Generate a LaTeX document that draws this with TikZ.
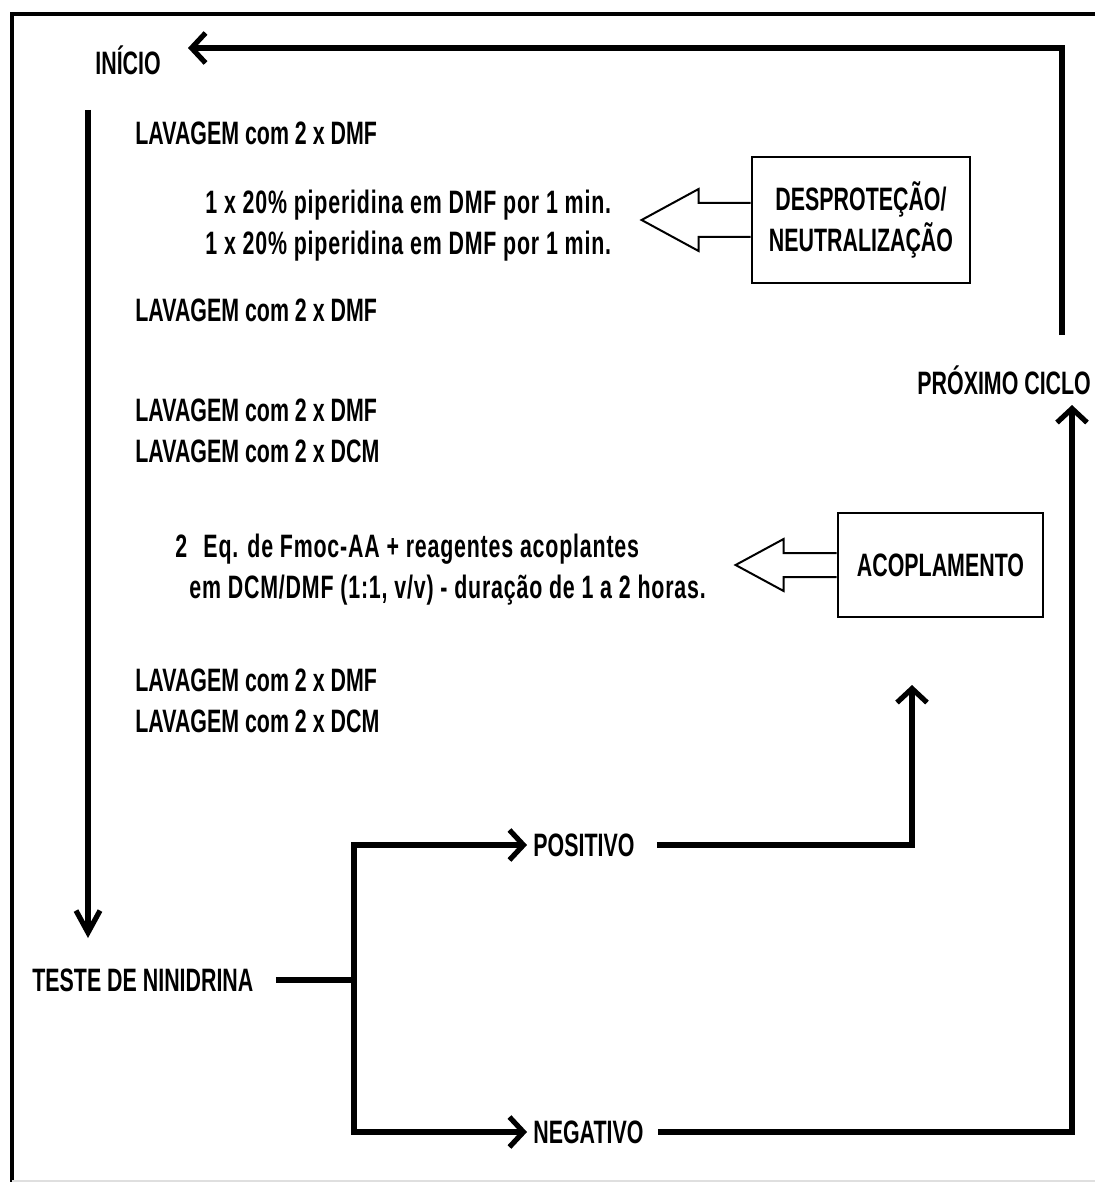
\documentclass[tikz,border=0pt]{standalone}
\usepackage{fontspec}
\setmainfont{Liberation Sans}[FakeStretch=0.66]
\usetikzlibrary{arrows.meta, calc}

\begin{document}
\begin{tikzpicture}[x=0.5pt, y=-0.5pt,
    font=\bfseries\fontsize{16.2}{20.5}\selectfont,
    txt/.style={anchor=west, align=left, inner sep=3pt},
    widetxt/.style={txt, font=\bfseries\fontsize{16.2}{20.5}\selectfont\addfontfeature{LetterSpace=2.5}},
    stagebox/.style={draw, line width=1.4pt, align=center, inner sep=2pt},
    bar/.style={line width=2.6pt},
    flow/.style={bar, -{Straight Barb[length=7pt, width=15pt]}},
    hollow/.style={line width=1pt, line join=miter}]
  \useasboundingbox (0,0) rectangle (1095,1182);

  % Frame (right side runs off the page)
  \draw[line width=2.4pt] (12,1190) -- (12,14) -- (1110,14);
  \draw[gray!25, line width=0.8pt] (12,1181) -- (1095,1181);

  % Steps down the left side
  \node[txt] (inicio) at (89,60) {INÍCIO};
  \node[txt] (lav1) at (129,133) {LAVAGEM com 2 x DMF};
  \node[widetxt] (pip) at (199,226) {1 x 20\% piperidina em DMF por 1 min.\\1 x 20\% piperidina em DMF por 1 min.};
  \node[txt] (lav2) at (129,310) {LAVAGEM com 2 x DMF};
  \node[txt] (lav3) at (129,431) {LAVAGEM com 2 x DMF\\LAVAGEM com 2 x DCM};
  \node[widetxt] (eq) at (169,570) {2\enspace Eq. de Fmoc-AA + reagentes acoplantes\\\hspace*{7pt}em DCM/DMF (1:1, v/v) - duração de 1 a 2 horas.};
  \node[txt] (lav4) at (129,701) {LAVAGEM com 2 x DMF\\LAVAGEM com 2 x DCM};
  \node[txt] (teste) at (26,980) {TESTE DE NINIDRINA};

  % Test outcomes
  \node[txt] (positivo) at (527,845) {POSITIVO};
  \node[txt] (negativo) at (527,1132) {NEGATIVO};
  \node[txt] (proximo) at (911,380) {PRÓXIMO CICLO};

  % Stage boxes
  \node[stagebox, minimum width=109pt, minimum height=63pt] (depbox) at (861,220) {DESPROTEÇÃO/\\NEUTRALIZAÇÃO};
  \node[stagebox, minimum width=102.5pt, minimum height=52pt] (acobox) at (940.5,565) {ACOPLAMENTO};

  % Hollow arrows from the boxes
  \draw[hollow] ($(depbox.west)+(0,-17)$) -- ++(-52,0) -- ++(0,-14)
    -- ($(depbox.west)+(-109,0)$) -- ++(57,31) -- ++(0,-14) -- ($(depbox.west)+(0,17)$);
  \draw[hollow] ($(acobox.west)+(0,-12)$) -- ++(-53,0) -- ++(0,-14)
    -- ($(acobox.west)+(-101,0)$) -- ++(48,26) -- ++(0,-14) -- ($(acobox.west)+(0,12)$);

  % Main flow
  \coordinate (downtop) at (88,110);
  \coordinate (downtip) at (88,938);
  \draw[bar, -{Straight Barb[length=11pt, width=12pt]}] (downtop) -- (downtip);

  \coordinate (split) at (354,980);
  \draw[bar, shorten <=8pt] (teste.east) -- (split);
  \draw[flow] (split) |- (positivo.west);
  \draw[flow] (split) |- (negativo.west);

  \coordinate (acotip) at (912,685);
  \draw[flow, shorten <=8pt] (positivo.east) -| (acotip);

  \coordinate (nexttip) at (1072,405);
  \draw[flow, shorten <=4pt] (negativo.east) -| (nexttip);

  % Back to the start
  \coordinate (loopstart) at (1062,335);
  \coordinate (looptip) at (188,48);
  \draw[flow] (loopstart) |- (looptip);
\end{tikzpicture}
\end{document}
